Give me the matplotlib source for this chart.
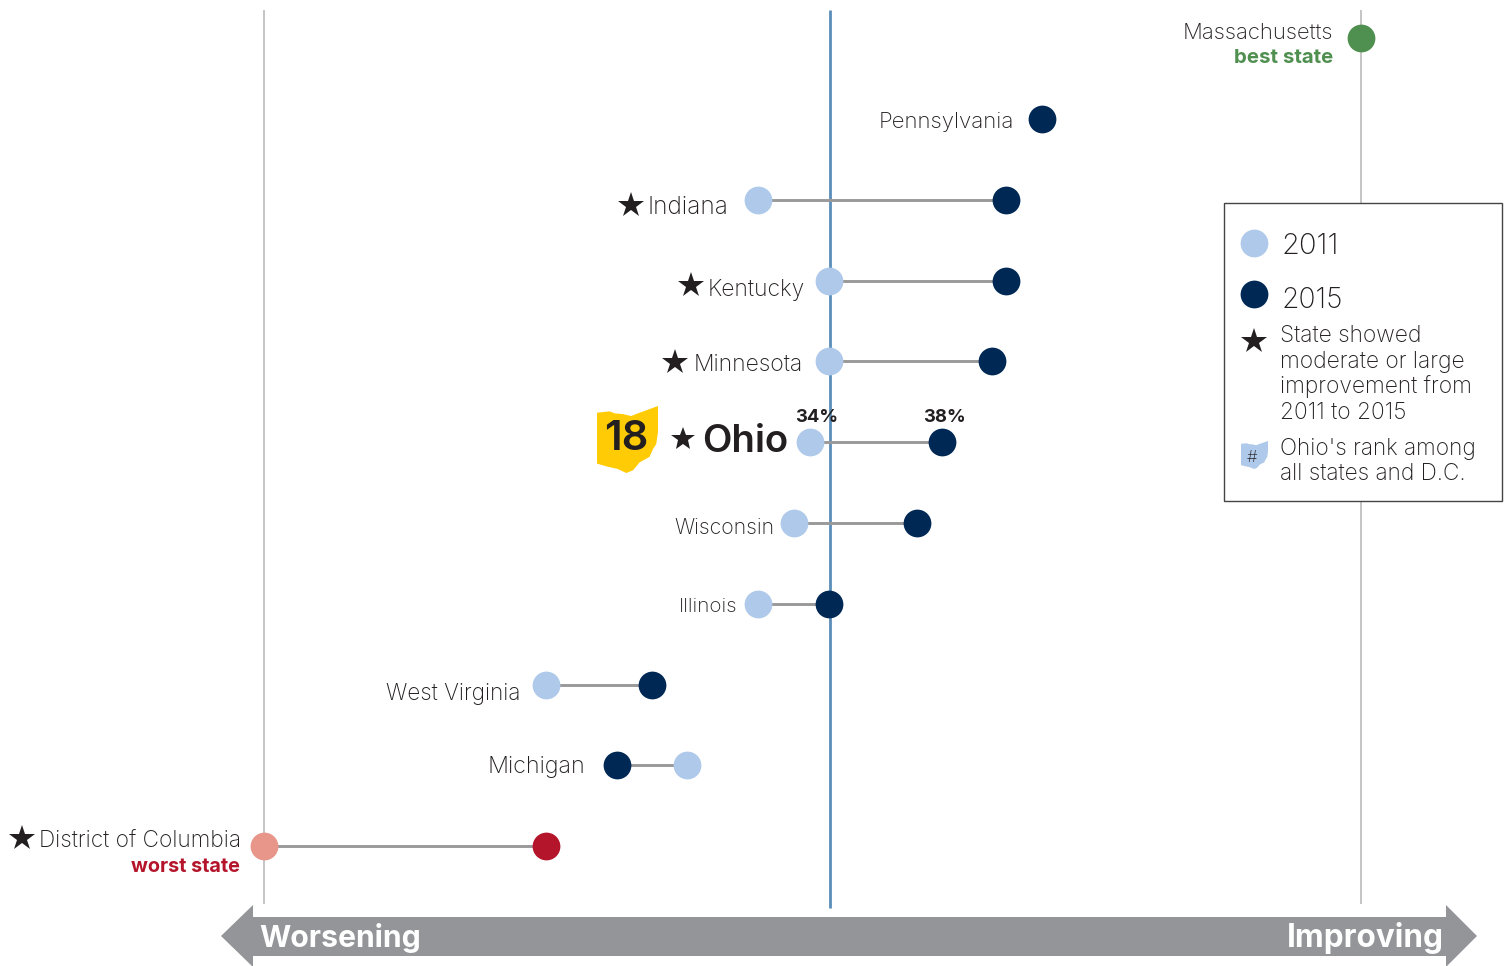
import matplotlib
matplotlib.use("Agg")
import matplotlib.pyplot as plt
from matplotlib.patches import Polygon, Rectangle

plt.rcParams['font.family'] = ['Inter', 'DejaVu Sans']

W, H = 1508, 966

# values, percent
states = ["Massachusetts", "Pennsylvania", "Indiana", "Kentucky", "Minnesota", "Ohio",
          "Wisconsin", "Illinois", "West Virginia", "Michigan", "District of Columbia"]
val_2011 = [None, None, 32.4, 34.55, 34.55, 34.0, 33.5, 32.4, 25.97, 30.25, 17.45]
val_2015 = [50.67, 41.0, 39.93, 39.93, 39.5, 38.0, 37.23, 34.57, 29.2, 28.13, 26.0]
national = 34.58
best_val = 50.67
worst_val = 17.45

LIGHT = "#aec9ea"
DARK = "#002855"
GREEN = "#4f8f4f"
RED = "#b5152b"
LRED = "#e8958a"
GREY = "#939598"
TEXT = "#231f20"

# outline of Ohio, 0-1 box
ohio_x = [0, .21, .29, .42, .56, .67, 1, 1, .97, .92, .86, .70, .59, .48, .34, .15, 0]
ohio_y = [.10, .08, .11, .12, .15, .11, 0, .39, .57, .64, .76, .84, .96, 1, .94, .90, .86]

fig = plt.figure(figsize=(W / 100, H / 100), dpi=100)

# data axes, x in percent, y in rows
ax = fig.add_axes([0, 0, 1, 1])
ax.set_xlim(34 - 810.5 / 33, 34 + (W - 810.5) / 33)
ax.set_ylim((H - 38.3) / 80.8, -38.3 / 80.8)
ax.axis("off")

# overlay in pixels for labels and furniture
ov = fig.add_axes([0, 0, 1, 1])
ov.set_xlim(0, W)
ov.set_ylim(H, 0)
ov.axis("off")
ov.patch.set_alpha(0)

ax.plot([best_val, best_val], [-0.35, 10.72], color="#b5b5b5", lw=1.1, zorder=1, solid_capstyle="butt")
ax.plot([worst_val, worst_val], [-0.35, 10.72], color="#b5b5b5", lw=1.1, zorder=1, solid_capstyle="butt")
ax.plot([national, national], [-0.35, 10.76], color="#5b8db8", lw=2, zorder=2, solid_capstyle="butt")

for i, st in enumerate(states):
    v0, v1 = val_2011[i], val_2015[i]
    c1 = DARK
    c0 = LIGHT
    if st == "Massachusetts":
        c1 = GREEN
    if st == "District of Columbia":
        c0, c1 = LRED, RED
    if v0 is not None:
        ax.plot([v0, v1], [i, i], color="#999999", lw=2.1, zorder=3)
        ax.plot(v0, i, "o", color=c0, ms=20, mew=0, zorder=4)
    ax.plot(v1, i, "o", color=c1, ms=20, mew=0, zorder=4)


def label(x, y, s, ha="left", size=16.5, **kw):
    kw.setdefault("color", TEXT)
    ov.text(x, y, s, ha=ha, va="center", fontsize=size, **kw)


def star(x, y, ms=19):
    ov.plot(x, y, "*", color=TEXT, ms=ms, mew=0)


def ohio(x, y, w, h, color, z=3):
    pts = [(x + w * a, y + h * b) for a, b in zip(ohio_x, ohio_y)]
    ov.add_patch(Polygon(pts, closed=True, fc=color, ec="none", zorder=z))


label(1333, 33, "Massachusetts", ha="right", size=15.9, fontweight="light")
label(1333, 58, "best state", ha="right", size=14.7, color=GREEN, fontweight="bold")
label(1014, 122, "Pennsylvania", ha="right", size=16, fontweight="light")
label(648, 207, "Indiana", size=17.5, fontweight="light")
label(708, 290, "Kentucky", fontweight="light")
label(694, 365, "Minnesota", fontweight="light")
label(674, 528, "Wisconsin", size=15.3, fontweight="light")
label(679, 607, "Illinois", size=14.8, fontweight="light")
label(386, 694, "West Virginia", size=16.2, fontweight="light")
label(488, 767, "Michigan", size=16.8, fontweight="light")
label(39, 842, "District of Columbia", size=16.3, fontweight="light")
label(240, 867, "worst state", ha="right", size=14.3, color=RED, fontweight="bold")
star(631, 205)
star(691, 285)
star(675, 362)
star(22, 838)

# Ohio row
ohio(597, 406, 61, 67, "#ffcb05")
label(626, 439, "18", ha="center", size=30, fontweight="semibold")
star(683, 439, ms=18)
label(702, 442, "Ohio", size=27.6, fontweight="semibold")
label(817, 418, "34%", ha="center", size=13.3, fontweight="bold")
label(944, 418, "38%", ha="center", size=13.3, fontweight="bold")

# direction arrow
ov.add_patch(Polygon([(221, 936), (253, 905), (253, 917), (1446, 917), (1446, 905), (1477, 936),
                      (1446, 967), (1446, 956), (253, 956), (253, 967)],
                     closed=True, fc=GREY, ec="none", zorder=2))
label(259, 938, "Worsening", size=21.7, color="white", fontweight="bold", zorder=3)
label(1444, 938, "Improving", ha="right", size=22.7, color="white", fontweight="bold", zorder=3)

# legend box
ov.add_patch(Rectangle((1224, 203), 278, 298, fc="white", ec="#444444", lw=1, zorder=5))
ov.plot(1254, 243, "o", color=LIGHT, ms=20, mew=0, zorder=6)
ov.plot(1254, 294, "o", color=DARK, ms=20, mew=0, zorder=6)
ov.plot(1254, 341, "*", color=TEXT, ms=19, mew=0, zorder=6)
label(1282, 247, "2011", size=21, fontweight="light", zorder=6)
label(1282, 301, "2015", size=20.3, fontweight="light", zorder=6)
leg_lines = ["State showed", "moderate or large", "improvement from", "2011 to 2015"]
for yy, s in zip([336, 362, 387, 413], leg_lines):
    label(1280, yy, s, size=16.4, fontweight="light", zorder=6)
label(1280, 449, "Ohio's rank among", size=16.3, fontweight="light", zorder=6)
label(1280, 474, "all states and D.C.", size=16.3, fontweight="light", zorder=6)
ohio(1241, 441, 27, 28, LIGHT, z=6)
label(1252, 458, "#", ha="center", size=12, fontweight="light", zorder=7)

fig.savefig("out.png", dpi=100)
